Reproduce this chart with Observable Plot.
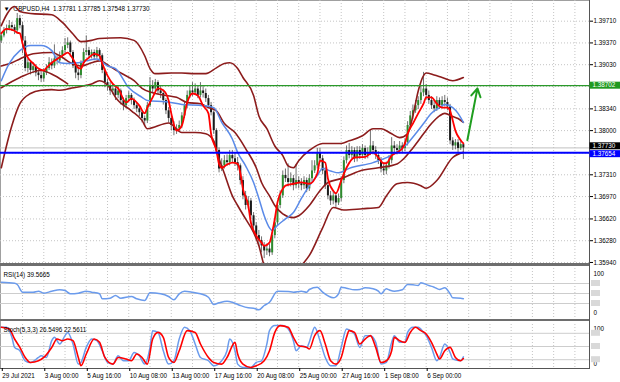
<!DOCTYPE html>
<html><head><meta charset="utf-8">
<script src="https://cdn.jsdelivr.net/npm/d3@7"></script>
<script src="https://cdn.jsdelivr.net/npm/@observablehq/plot@0.6"></script>
<style>
html,body{margin:0;padding:0;background:#fff;}
#chart{position:relative;width:620px;height:382px;overflow:hidden;background:#fff;}
#chart svg{position:absolute;left:0;}
.sep{position:absolute;}
</style></head><body><div id="chart"></div>
<script>
// ---------- DATA (GBPUSD H4) ----------
const title = "\u25BC  GBPUSD,H4  1.37781 1.37785 1.37548 1.37730";
const rsiTitle = "RSI(14) 39.5665";
const stochTitle = "Stoch(5,3,3) 26.5496 22.5611";

const firstOpen = 1.3940;
const closes = [1.3948,1.3956,1.3959,1.3964,1.3961,1.3956,1.3975,1.3964,1.3940,1.3897,
1.3906,1.3894,1.3900,1.3890,1.3886,1.3881,1.3890,1.3897,1.3906,1.3901,
1.3912,1.3909,1.3917,1.3925,1.3933,1.3937,1.3922,1.3901,1.3890,1.3886,
1.3905,1.3922,1.3925,1.3917,1.3922,1.3915,1.3925,1.3917,1.3894,1.3875,
1.3870,1.3862,1.3865,1.3855,1.3862,1.3847,1.3839,1.3850,1.3855,1.3847,
1.3839,1.3834,1.3828,1.3819,1.3815,1.3839,1.3870,1.3865,1.3875,1.3862,
1.3858,1.3847,1.3831,1.3819,1.3808,1.3800,1.3803,1.3808,1.3823,1.3839,
1.3855,1.3862,1.3859,1.3865,1.3855,1.3862,1.3858,1.3850,1.3839,1.3828,
1.3800,1.3769,1.3740,1.3745,1.3753,1.3750,1.3761,1.3756,1.3750,1.3745,
1.3722,1.3698,1.3683,1.3690,1.3667,1.3651,1.3636,1.3628,1.3620,1.3612,
1.3615,1.3609,1.3636,1.3656,1.3683,1.3698,1.3730,1.3725,1.3719,1.3725,
1.3714,1.3722,1.3717,1.3714,1.3722,1.3709,1.3725,1.3737,1.3745,1.3765,
1.3756,1.3737,1.3714,1.3698,1.3690,1.3698,1.3687,1.3694,1.3722,1.3753,
1.3769,1.3761,1.3769,1.3756,1.3769,1.3761,1.3772,1.3761,1.3765,1.3776,
1.3769,1.3761,1.3753,1.3740,1.3737,1.3745,1.3753,1.3776,1.3772,1.3769,
1.3776,1.3772,1.3781,1.3808,1.3823,1.3831,1.3839,1.3847,1.3859,1.3865,
1.3855,1.3847,1.3839,1.3834,1.3847,1.3839,1.3847,1.3844,1.3837,1.3784,
1.3776,1.3781,1.3772,1.37781,1.37730];
const highs = [1.3953,1.3961,1.3965,1.3972,1.3969,1.3965,1.3983,1.3980,1.3969,1.3947,
1.3912,1.3909,1.3906,1.3903,1.3895,1.3892,1.3897,1.3903,1.3914,1.3912,
1.3934,1.3919,1.3923,1.3931,1.3944,1.3945,1.3940,1.3925,1.3906,1.3897,
1.3909,1.3928,1.3948,1.3930,1.3926,1.3926,1.3930,1.3928,1.3920,1.3897,
1.3880,1.3875,1.3872,1.3870,1.3869,1.3865,1.3851,1.3855,1.3861,1.3858,
1.3851,1.3844,1.3839,1.3831,1.3823,1.3844,1.3883,1.3878,1.3880,1.3878,
1.3869,1.3862,1.3850,1.3836,1.3823,1.3814,1.3809,1.3815,1.3828,1.3844,
1.3862,1.3870,1.3875,1.3873,1.3870,1.3875,1.3869,1.3865,1.3855,1.3844,
1.3831,1.3803,1.3773,1.3756,1.3761,1.3762,1.3769,1.3769,1.3764,1.3758,
1.3748,1.3728,1.3705,1.3697,1.3694,1.3672,1.3656,1.3644,1.3634,1.3625,
1.3623,1.3622,1.3640,1.3662,1.3689,1.3706,1.3737,1.3740,1.3748,1.3734,
1.3730,1.3747,1.3728,1.3725,1.3728,1.3726,1.3731,1.3753,1.3753,1.3772,
1.3772,1.3761,1.3742,1.3719,1.3705,1.3706,1.3703,1.3701,1.3728,1.3759,
1.3776,1.3780,1.3775,1.3773,1.3775,1.3775,1.3778,1.3776,1.3773,1.3800,
1.3783,1.3775,1.3767,1.3758,1.3747,1.3751,1.3761,1.3789,1.3783,1.3778,
1.3783,1.3781,1.3787,1.3814,1.3830,1.3840,1.3847,1.3853,1.3870,1.3891,
1.3872,1.3862,1.3853,1.3847,1.3853,1.3851,1.3853,1.3855,1.3851,1.3841,
1.3789,1.3786,1.3786,1.3783,1.37785];
const lows = [1.3936,1.3945,1.3951,1.3956,1.3955,1.3950,1.3951,1.3959,1.3920,1.3892,
1.3890,1.3887,1.3889,1.3884,1.3878,1.3875,1.3876,1.3886,1.3894,1.3895,
1.3897,1.3903,1.3905,1.3912,1.3920,1.3928,1.3915,1.3897,1.3881,1.3878,
1.3881,1.3900,1.3917,1.3912,1.3912,1.3909,1.3912,1.3909,1.3889,1.3867,
1.3862,1.3855,1.3856,1.3847,1.3850,1.3840,1.3831,1.3834,1.3845,1.3840,
1.3833,1.3828,1.3822,1.3812,1.3808,1.3811,1.3836,1.3859,1.3861,1.3856,
1.3850,1.3840,1.3825,1.3812,1.3800,1.3792,1.3794,1.3797,1.3803,1.3819,
1.3834,1.3850,1.3853,1.3855,1.3850,1.3851,1.3851,1.3844,1.3834,1.3823,
1.3794,1.3764,1.3734,1.3736,1.3740,1.3744,1.3745,1.3750,1.3744,1.3737,
1.3715,1.3692,1.3676,1.3678,1.3661,1.3644,1.3628,1.3619,1.3609,1.3600,
1.3605,1.3603,1.3605,1.3631,1.3651,1.3678,1.3694,1.3719,1.3712,1.3712,
1.3706,1.3709,1.3709,1.3706,1.3708,1.3703,1.3705,1.3720,1.3733,1.3740,
1.3750,1.3731,1.3708,1.3692,1.3683,1.3684,1.3680,1.3683,1.3689,1.3717,
1.3748,1.3756,1.3756,1.3750,1.3751,1.3755,1.3756,1.3755,1.3756,1.3761,
1.3762,1.3755,1.3747,1.3734,1.3730,1.3731,1.3740,1.3748,1.3765,1.3762,
1.3764,1.3765,1.3767,1.3776,1.3803,1.3817,1.3827,1.3833,1.3841,1.3853,
1.3848,1.3841,1.3833,1.3828,1.3830,1.3833,1.3834,1.3837,1.3831,1.3778,
1.3769,1.3770,1.3765,1.3769,1.37548];

// Bollinger bands (upper / middle / lower) and an extra band line, sampled at bars
const upperBar = [0,2,4,5,7,11,19,23,27,30,34,37,45,50,54,56,58,64,68,73,77,81,84,86,89,91,95,97,100,103,106,108,110,112,116,121,128,131,136,140,143,147,150,153,155,157,159,160,163,166,170,174];
const upperVal = [1.3964,1.3981,1.3992,1.3994,1.3986,1.3983,1.3981,1.3969,1.3951,1.3939,1.3941,1.3944,1.3945,1.3941,1.3917,1.3897,1.3889,1.3890,1.3890,1.3889,1.3889,1.3898,1.3905,1.3906,1.3897,1.3883,1.3855,1.3823,1.3803,1.3776,1.3761,1.3745,1.3742,1.3753,1.3769,1.3780,1.3780,1.3784,1.3792,1.3803,1.3803,1.3795,1.3789,1.3795,1.3823,1.3862,1.3886,1.3890,1.3887,1.3883,1.3878,1.3883];
const midBar = [0,4,7,12,19,22,26,30,34,37,41,45,50,53,57,62,66,70,75,78,81,84,88,92,96,98,101,103,106,110,112,116,120,123,128,135,142,149,152,155,159,162,165,167,170,172,174];
const midVal = [1.3901,1.3906,1.3912,1.3920,1.3922,1.3917,1.3906,1.3901,1.3906,1.3909,1.3900,1.3890,1.3878,1.3866,1.3859,1.3855,1.3852,1.3844,1.3842,1.3836,1.3831,1.3811,1.3797,1.3772,1.3742,1.3719,1.3698,1.3683,1.3670,1.3664,1.3667,1.3683,1.3706,1.3719,1.3725,1.3737,1.3742,1.3748,1.3758,1.3773,1.3795,1.3811,1.3823,1.3827,1.3822,1.3819,1.3813];
const lowBar = [0,4,7,11,15,19,22,26,30,34,37,41,43,49,53,55,63,68,73,77,80,81,84,87,89,92,95,97,99,102,106,110,113,116,121,125,129,136,142,145,149,153,158,160,164,170,174];
const lowVal = [1.3742,1.3808,1.3842,1.3858,1.3863,1.3864,1.3863,1.3866,1.3869,1.3873,1.3878,1.3866,1.3852,1.3831,1.3816,1.3803,1.3812,1.3797,1.3797,1.3795,1.3784,1.3769,1.3733,1.3698,1.3683,1.3662,1.3641,1.3620,1.3589,1.3572,1.3566,1.3573,1.3589,1.3605,1.3648,1.3680,1.3676,1.3678,1.3680,1.3698,1.3717,1.3719,1.3714,1.3710,1.3722,1.3758,1.3766];
const extraBar = [0,7,15,20,25];
const extraVal = [1.3867,1.3883,1.3894,1.3886,1.3873];

// fast MA (red) and slow MA (blue)
const redBar = [0,2,5,6,7,8,10,12,14,16,
17,19,21,23,25,27,29,30,31,33,
35,37,38,40,42,44,47,49,52,54,
55,57,59,61,63,64,66,68,70,72,
74,76,78,79,81,82,83,85,87,89,
90,91,93,94,96,98,99,101,102,103,
104,106,107,110,113,116,119,120,122,123,
125,126,128,130,133,137,140,142,144,145,
147,149,151,152,153,155,157,159,160,162,
164,166,168,169,170,171,173,174];
const redVal = [1.3952,1.3959,1.3956,1.3953,1.3952,1.3936,1.3914,1.3905,1.3897,1.3894,
1.3898,1.3906,1.3912,1.3917,1.3922,1.3912,1.3898,1.3897,1.3906,1.3914,
1.3920,1.3917,1.3905,1.3886,1.3873,1.3866,1.3844,1.3850,1.3839,1.3827,
1.3836,1.3852,1.3866,1.3863,1.3847,1.3827,1.3800,1.3808,1.3844,1.3858,
1.3855,1.3839,1.3827,1.3795,1.3769,1.3748,1.3742,1.3747,1.3750,1.3748,
1.3734,1.3709,1.3683,1.3656,1.3636,1.3625,1.3620,1.3625,1.3641,1.3662,
1.3688,1.3709,1.3714,1.3717,1.3719,1.3717,1.3733,1.3753,1.3750,1.3725,
1.3706,1.3702,1.3722,1.3742,1.3758,1.3759,1.3766,1.3758,1.3749,1.3749,
1.3761,1.3766,1.3772,1.3780,1.3795,1.3811,1.3827,1.3842,1.3852,1.3852,
1.3842,1.3836,1.3836,1.3831,1.3816,1.3800,1.3785,1.3780];
const blueBar = [0,3,7,11,15,19,22,25,29,32,36,40,43,48,53,55,62,68,76,80,83,87,89,92,95,97,99,101,102,104,107,110,113,116,119,121,124,127,131,140,148,153,156,159,162,165,167,170,172,174];
const blueVal = [1.3878,1.3905,1.3925,1.3933,1.3933,1.3925,1.3906,1.3905,1.3906,1.3909,1.3912,1.3901,1.3897,1.3867,1.3852,1.3847,1.3845,1.3841,1.3839,1.3836,1.3813,1.3787,1.3766,1.3745,1.3719,1.3694,1.3667,1.3648,1.3644,1.3652,1.3662,1.3672,1.3694,1.3714,1.3730,1.3741,1.3737,1.3734,1.3741,1.3750,1.3764,1.3780,1.3795,1.3811,1.3827,1.3836,1.3841,1.3836,1.3827,1.3813];

const greenLevel = 1.38702;
const blueLevel = 1.37654;
const bidPrice = 1.37730;
const arrowFrom = [175.5, 1.3785];
const arrowTo = [179.3, 1.3866];

const priceLabels = [1.39710,1.39370,1.39030,1.38340,1.38000,1.37310,1.36970,1.36620,1.36280,1.35940];
const priceGrid = [1.39710,1.39370,1.39030,1.38690,1.38340,1.38000,1.37650,1.37310,1.36970,1.36620,1.36280,1.35940];

// RSI(14)
const rsiBar = [0,5,6,8,12,14,16,19,22,24,26,29,32,34,37,38,41,43,45,49,51,54,56,60,63,65,67,69,72,75,78,80,82,85,87,90,93,95,97,99,101,104,108,110,113,115,116,119,121,125,127,128,130,133,135,137,140,142,143,145,146,148,151,153,155,157,158,161,163,165,167,169,170,173,174];
const rsiVal = [72.6,70.6,68,52.6,52.6,54.6,50.6,54.6,57.4,56,49.4,50.6,54.6,52.6,49.4,39.4,40.6,46,40.6,44,39.4,36,51.4,49.4,44,37.4,49.4,54.6,52.6,49.4,42.6,28,31.4,34.6,32.6,26,21.4,20.6,17.4,26,32.6,54.6,54,52.6,54.6,52.6,58,62.6,52.6,41.4,49.4,62.6,60.6,57.4,58,61.4,59.4,54.6,49.4,59.4,57.4,54.6,57.4,68,67.4,66,71.4,66,62.6,58,61.4,49.4,41.4,40.6,39.6];
const rsiLevels = [70, 50, 30];

// Stochastic(5,3,3): main and signal
const stochBar = [0,2,4,5,7,9,11,14,15,17,19,20,22,24,25,27,29,30,32,34,36,38,40,42,44,46,48,50,52,54,56,57,59,61,63,65,67,69,71,73,75,78,80,83,85,86,88,89,91,94,96,98,100,101,103,106,108,110,111,113,115,116,117,118,120,122,124,126,128,130,131,133,135,137,139,141,143,145,147,148,150,152,153,155,157,159,160,162,164,165,167,169,170,173,174];
const stochVal = [93.6,93.6,70.8,48,40.4,17.6,13.7,25.1,29,25.1,63.2,70.8,55.7,74.7,82,55.7,10,13.7,48,67,63.2,40.4,13.7,10,29,17.6,17.6,36.5,29,10,48,86,82,40.4,10,17.6,67,93.6,86,55.7,25.1,17.6,6.2,17.6,40.4,67,40.4,10,2.3,2.3,13.7,17.6,55.7,86,97.5,97.5,90,63.2,40.4,51.8,48,60,80,93.6,63.2,25.1,6.2,6.2,48,90,87.5,78.5,48,74.7,74.7,59.4,10,13.7,59.4,74.7,59.4,59.4,82,93.6,93.6,82,74.7,48,17.6,25.1,55.7,36.5,21.5,17.6,26.5];
const signalBar = [0,3,5,7,9,11,14,16,19,21,23,25,27,29,30,32,35,37,39,42,44,47,49,51,53,55,57,59,61,63,65,67,70,73,75,78,80,83,85,88,89,91,94,96,99,101,103,105,108,110,112,115,116,118,120,122,124,126,128,130,131,133,135,137,139,141,143,145,147,148,150,152,154,156,158,160,162,164,165,167,169,171,173,174];
const signalVal = [93.6,90,67,48,25.1,13.7,17.6,25.1,48,67,63.2,67,63.2,25.1,6.2,32.9,67,59.4,25.1,10,25.1,21.5,17.6,32.9,25.1,10,67,82,70.8,25.1,13.7,40.4,86,82,55.7,25.1,13.7,10,25.1,59.4,32.9,10,2.3,6.2,17.6,40.4,82,97.5,93.6,70.8,51.8,48,44.3,74.7,86,55.7,17.6,10,25.1,70.8,86,82,55.7,67,74.7,48,13.7,17.6,40.4,70.8,63.2,59.4,82,93.6,86,78.5,59.4,32.9,21.5,40.4,48,25.1,17.6,22.6];
const stochLevels = [80, 50, 20];

// time axis
const tickBars = [0,16,32,48,64,80,96,112,128,144,160];
const tickLabels = ["29 Jul 2021","3 Aug 00:00","5 Aug 16:00","10 Aug 08:00","13 Aug 00:00","17 Aug 16:00","20 Aug 08:00","25 Aug 00:00","27 Aug 16:00","1 Sep 08:00","6 Sep 00:00"];

// ---------- DRAWING ----------
const FONT = '"Liberation Sans", Arial, sans-serif';
const FS = 6.3;
const xDomain = [-0.3, 221.5];
const gridBars = d3.range(8, 222, 8);
const gridStyle = {stroke: "#c4c4c4", strokeDasharray: "1,2", strokeWidth: 1};
const styleBase = {fontFamily: FONT, fontSize: FS + "px", background: "none", color: "#000", overflow: "visible"};
const pts = (idx, val) => idx.map((i, k) => ({i, v: val[k]}));
const bars = closes.map((c, i) => ({i, open: i ? closes[i - 1] : firstOpen, close: c, high: highs[i], low: lows[i]}));
const upColor = "#2e8b2e", downColor = "#1a1a1a";
const bandColor = "#8c1c1c";
const lineOpt = (stroke, w) => ({x: "i", y: "v", stroke, strokeWidth: w, curve: "monotone-x", clip: true});
const fmt5 = d3.format(".5f");
const chart = document.getElementById("chart");

function sep(top, height, left, width, color) {
  const d = document.createElement("div");
  d.className = "sep";
  Object.assign(d.style, {top: top + "px", height: height + "px", left: left + "px", width: width + "px", background: color});
  chart.appendChild(d);
}

// main price panel
const main = Plot.plot({
  width: 620, height: 263,
  marginLeft: 0, marginRight: 31, marginTop: 0, marginBottom: 0,
  style: styleBase,
  color: {type: "identity"},
  x: {domain: xDomain, axis: null},
  y: {domain: [1.35924, 1.40033], axis: "right", ticks: priceLabels, tickFormat: fmt5, tickSize: 3, tickPadding: 1, label: null},
  marks: [
    Plot.ruleY(priceGrid, gridStyle),
    Plot.ruleX(gridBars, gridStyle),
    Plot.text([title], {frameAnchor: "top-left", dx: 3, dy: 6, textAnchor: "start", fill: "#000", fontSize: FS}),
    Plot.ruleY([bidPrice], {stroke: "#c0c0c0", strokeWidth: 1}),
    Plot.ruleX(bars, {x: "i", y1: "low", y2: "high", stroke: "#4d4d4d", strokeWidth: 0.8}),
    Plot.ruleX(bars, {x: "i", y1: "open", y2: "close", stroke: d => d.close > d.open ? upColor : downColor, strokeWidth: 2}),
    Plot.line(pts(extraBar, extraVal), lineOpt(bandColor, 1.6)),
    Plot.line(pts(upperBar, upperVal), lineOpt(bandColor, 1.6)),
    Plot.line(pts(midBar, midVal), lineOpt(bandColor, 1.6)),
    Plot.line(pts(lowBar, lowVal), lineOpt(bandColor, 1.6)),
    Plot.line(pts(blueBar, blueVal), lineOpt("#5a8ae8", 1.5)),
    Plot.line(pts(redBar, redVal), lineOpt("#ff0000", 1.8)),
    Plot.ruleY([greenLevel], {stroke: "#2a992a", strokeWidth: 1.3}),
    Plot.ruleY([blueLevel], {stroke: "#0000ff", strokeWidth: 1.8}),
    Plot.arrow([0], {x1: () => arrowFrom[0], y1: () => arrowFrom[1], x2: () => arrowTo[0], y2: () => arrowTo[1],
      stroke: "#1f9e1f", strokeWidth: 2, headLength: 7})
  ]
});
main.style.top = "0px";

// price boxes on the right scale (small pixel nudge keeps the two close boxes apart)
{
  const ys = main.scale("y");
  const g = d3.select(main).append("g").attr("font-family", FONT).attr("font-size", FS).attr("text-anchor", "start");
  for (const b of [{v: greenLevel, fill: "#1f9a1f", nudge: 0}, {v: bidPrice, fill: "#000", nudge: -1.6}, {v: blueLevel, fill: "#0000ff", nudge: 1.4}]) {
    const y = ys.apply(b.v) + b.nudge;
    g.append("rect").attr("x", 589.5).attr("y", y - 3.5).attr("width", 30.5).attr("height", 7).attr("fill", b.fill);
    g.append("text").attr("x", 592.5).attr("y", y).attr("dy", "0.35em").attr("text-anchor", "start").attr("fill", "#fff").text(fmt5(b.v));
  }
}

// RSI panel
const rsiPlot = Plot.plot({
  width: 620, height: 53,
  marginLeft: 0, marginRight: 31, marginTop: 2, marginBottom: 1,
  style: styleBase,
  x: {domain: xDomain, axis: null},
  y: {domain: [0, 100], axis: null},
  marks: [
    Plot.ruleX(gridBars, gridStyle),
    Plot.ruleY(rsiLevels, {stroke: "#cdcdcd", strokeWidth: 1}),
    Plot.line(pts(rsiBar, rsiVal), {x: "i", y: "v", stroke: "#6b9bec", strokeWidth: 1.5, curve: "monotone-x"}),
    Plot.text([rsiTitle], {frameAnchor: "top-left", dx: 3, dy: 4, textAnchor: "start", fontSize: FS}),
    Plot.text(["100"], {frameAnchor: "top-right", dx: 4, dy: 3, textAnchor: "start", fontSize: FS}),
    Plot.text(["0"], {frameAnchor: "bottom-right", dx: 4, dy: -4, textAnchor: "start", fontSize: FS})
  ]
});
rsiPlot.style.top = "266px";
{
  const ys = rsiPlot.scale("y");
  const g = d3.select(rsiPlot).append("g");
  for (const v of rsiLevels) g.append("rect").attr("x", 591).attr("y", ys.apply(v) - 3).attr("width", 9).attr("height", 6).attr("fill", "#d9d9d9");
}

// Stochastic panel with time axis
const tickMap = new Map(tickBars.map((b, k) => [b, tickLabels[k]]));
const hasAxisMark = typeof Plot.axisX === "function";
const stochPlot = Plot.plot({
  width: 620, height: 61,
  marginLeft: 0, marginRight: 31, marginTop: 3, marginBottom: 14,
  style: styleBase,
  x: hasAxisMark ? {domain: xDomain} : {domain: xDomain, ticks: tickBars, tickFormat: d => tickMap.get(d), tickSize: 3, label: null},
  y: {domain: [0, 100], axis: null},
  marks: [
    Plot.ruleX(gridBars, gridStyle),
    Plot.ruleY(stochLevels, {stroke: "#cdcdcd", strokeWidth: 1}),
    Plot.line(pts(stochBar, stochVal), {x: "i", y: "v", stroke: "#6b9bec", strokeWidth: 1.5, curve: "monotone-x"}),
    Plot.line(pts(signalBar, signalVal), {x: "i", y: "v", stroke: "#ff0000", strokeWidth: 1.6, curve: "monotone-x"}),
    Plot.text([stochTitle], {frameAnchor: "top-left", dx: 3, dy: 3, textAnchor: "start", fontSize: FS}),
    Plot.text(["100"], {frameAnchor: "top-right", dx: 4, dy: 2, textAnchor: "start", fontSize: FS}),
    Plot.text(["0"], {frameAnchor: "bottom-right", dx: 4, dy: -3, textAnchor: "start", fontSize: FS}),
    ...(hasAxisMark ? [Plot.axisX({ticks: tickBars, tickFormat: d => tickMap.get(d), textAnchor: "start", dx: 1, tickSize: 3, tickPadding: 2, label: null, fontSize: FS})] : [])
  ]
});
stochPlot.style.top = "321px";
{
  const ys = stochPlot.scale("y");
  const g = d3.select(stochPlot).append("g");
  for (const v of stochLevels) g.append("rect").attr("x", 591).attr("y", ys.apply(v) - 3).attr("width", 9).attr("height", 6).attr("fill", "#d9d9d9");
}

// panel frame lines
sep(0, 1, 0, 589, "#a0a0a0");
sep(0, 369, 0, 1, "#a0a0a0");
sep(263, 3, 0, 589, "#6e6e6e");
sep(319, 2, 0, 589, "#6e6e6e");
sep(368, 1, 0, 590, "#555");
sep(0, 369, 589, 1, "#555");
chart.appendChild(main);
chart.appendChild(rsiPlot);
chart.appendChild(stochPlot);
</script></body></html>
